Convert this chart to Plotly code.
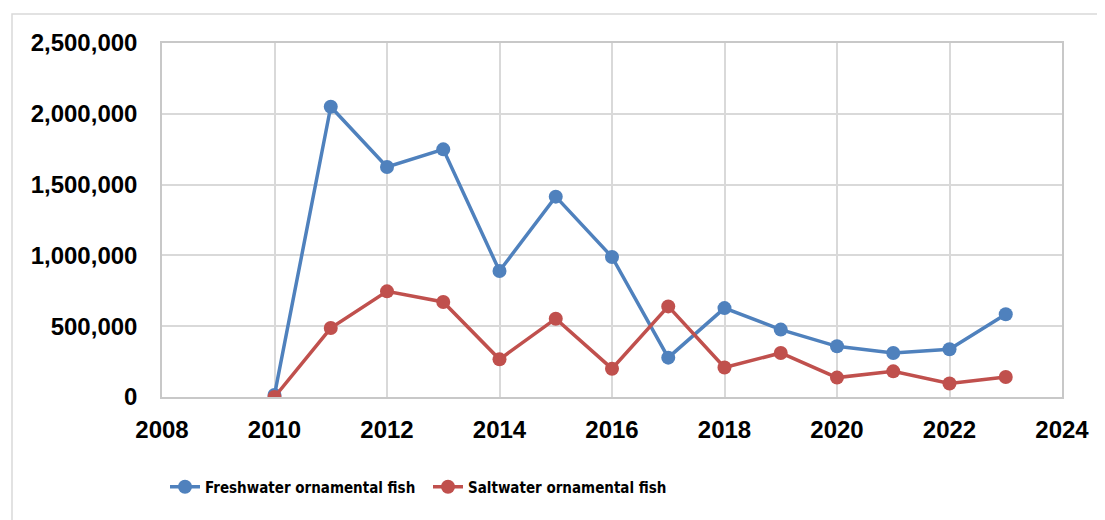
import plotly.graph_objects as go

years = [2010, 2011, 2012, 2013, 2014, 2015, 2016, 2017, 2018, 2019, 2020, 2021, 2022, 2023]
freshwater = [15000, 2050000, 1624000, 1749000, 890000, 1415000, 989000, 278000, 628000, 476000, 358000, 311000, 337000, 584000]
saltwater = [0, 487000, 746000, 671000, 266000, 553000, 200000, 640000, 208000, 311000, 137000, 181000, 95000, 141000]
series_names = ["Freshwater ornamental fish", "Saltwater ornamental fish"]
colors = ["#4f81bd", "#c0504d"]
x_ticks = list(range(2008, 2025, 2))
y_ticks = [0, 500000, 1000000, 1500000, 2000000, 2500000]

W, H = 1105, 520
OFF = 8  # default page body margin
L, R, T, B = 162 - OFF, 1062 - OFF, 43 - OFF, 397 - OFF

fig = go.Figure()
for name, vals, c in zip(series_names, [freshwater, saltwater], colors):
    fig.add_trace(go.Scatter(
        x=years, y=vals, name=name, mode="lines+markers",
        line=dict(color=c, width=3.5),
        marker=dict(color=c, size=14),
    ))

tick_font = dict(family="Liberation Sans, Arial, sans-serif", size=24, color="#000000", weight="bold")

fig.update_layout(
    width=W, height=H,
    margin=dict(l=L, r=W - R, t=T, b=H - B, autoexpand=False),
    paper_bgcolor="white", plot_bgcolor="white",
    xaxis=dict(range=[2008, 2024], tickvals=x_ticks, ticktext=[str(v) for v in x_ticks],
               showgrid=True, gridcolor="#d9d9d9", gridwidth=1.5,
               showline=True, linecolor="#c8c8c8", linewidth=1.5, mirror=True,
               zeroline=False, ticks="", tickfont=tick_font, ticklabelstandoff=10),
    yaxis=dict(range=[0, 2500000], tickvals=y_ticks, ticktext=[f"{v:,}" for v in y_ticks],
               showgrid=True, gridcolor="#d9d9d9", gridwidth=1.5,
               showline=True, linecolor="#c8c8c8", linewidth=1.5, mirror=True,
               zeroline=False, ticks="", tickfont=tick_font, ticklabelstandoff=18),
    showlegend=True,
    legend=dict(orientation="h", xref="container", yref="container",
                x=(165 - OFF) / W, xanchor="left", y=1 - (487 - OFF) / H, yanchor="middle",
                font=dict(family="DejaVu Sans Condensed, Liberation Sans Narrow, Arial Narrow, sans-serif",
                          size=15, color="#000000", weight="bold"),
                itemwidth=30, tracegroupgap=0, entrywidth=218, entrywidthmode="pixels"),
)

def px_to_paper_x(px):
    return (px - OFF - L) / (R - L)

def px_to_paper_y(py):
    return (B - (py - OFF)) / (B - T)

# outer chart border (top and left visible)
fig.add_shape(type="rect", xref="paper", yref="paper",
              x0=px_to_paper_x(12), x1=px_to_paper_x(1130),
              y0=px_to_paper_y(540), y1=px_to_paper_y(14),
              line=dict(color="#d9d9d9", width=1.5), layer="below")

fig.write_html("out.html")
